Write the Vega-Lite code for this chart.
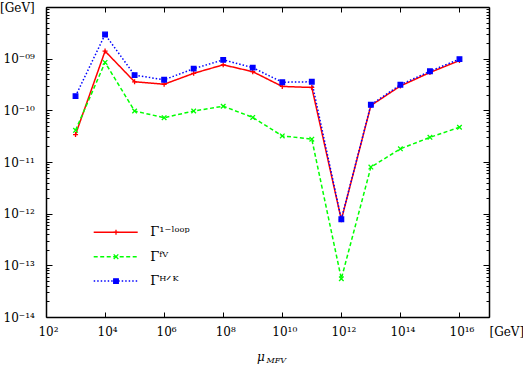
{
  "$schema": "https://vega.github.io/schema/vega-lite/v6.json",
  "width": 443,
  "height": 310,
  "autosize": "none",
  "padding": {"left": 46, "top": 7, "right": 34, "bottom": 48},
  "background": "white",
  "config": {
    "view": {"stroke": null},
    "axis": {
      "grid": false,
      "domainColor": "black",
      "domainWidth": 1.5,
      "tickColor": "black",
      "tickWidth": 1,
      "labelFont": "DejaVu Serif",
      "labelFontSize": 12,
      "labelColor": "black",
      "titleFont": "DejaVu Serif",
      "titleColor": "black",
      "titleFontWeight": "normal",
      "labelOverlap": false,
      "labelBound": false,
      "labelFlush": false
    }
  },
  "data": {
    "values": [
      {"mu": 1e3, "value": 3.4e-11, "series": "1-loop"},
      {"mu": 1e4, "value": 1.40e-9, "series": "1-loop"},
      {"mu": 1e5, "value": 3.57e-10, "series": "1-loop"},
      {"mu": 1e6, "value": 3.2e-10, "series": "1-loop"},
      {"mu": 1e7, "value": 5.2e-10, "series": "1-loop"},
      {"mu": 1e8, "value": 7.6e-10, "series": "1-loop"},
      {"mu": 1e9, "value": 5.6e-10, "series": "1-loop"},
      {"mu": 1e10, "value": 2.9e-10, "series": "1-loop"},
      {"mu": 1e11, "value": 2.77e-10, "series": "1-loop"},
      {"mu": 1e12, "value": 7.6e-13, "series": "1-loop"},
      {"mu": 1e13, "value": 1.24e-10, "series": "1-loop"},
      {"mu": 1e14, "value": 2.96e-10, "series": "1-loop"},
      {"mu": 1e15, "value": 5.4e-10, "series": "1-loop"},
      {"mu": 1e16, "value": 9.2e-10, "series": "1-loop"},
      {"mu": 1e3, "value": 4.1e-11, "series": "FV"},
      {"mu": 1e4, "value": 8.45e-10, "series": "FV"},
      {"mu": 1e5, "value": 9.7e-11, "series": "FV"},
      {"mu": 1e6, "value": 7.2e-11, "series": "FV"},
      {"mu": 1e7, "value": 9.7e-11, "series": "FV"},
      {"mu": 1e8, "value": 1.2e-10, "series": "FV"},
      {"mu": 1e9, "value": 7.3e-11, "series": "FV"},
      {"mu": 1e10, "value": 3.2e-11, "series": "FV"},
      {"mu": 1e11, "value": 2.77e-11, "series": "FV"},
      {"mu": 1e12, "value": 5.5e-14, "series": "FV"},
      {"mu": 1e13, "value": 7.96e-12, "series": "FV"},
      {"mu": 1e14, "value": 1.8e-11, "series": "FV"},
      {"mu": 1e15, "value": 3.0e-11, "series": "FV"},
      {"mu": 1e16, "value": 4.7e-11, "series": "FV"},
      {"mu": 1e3, "value": 1.88e-10, "series": "H/K"},
      {"mu": 1e4, "value": 2.94e-9, "series": "H/K"},
      {"mu": 1e5, "value": 4.8e-10, "series": "H/K"},
      {"mu": 1e6, "value": 3.9e-10, "series": "H/K"},
      {"mu": 1e7, "value": 6.4e-10, "series": "H/K"},
      {"mu": 1e8, "value": 9.5e-10, "series": "H/K"},
      {"mu": 1e9, "value": 6.7e-10, "series": "H/K"},
      {"mu": 1e10, "value": 3.5e-10, "series": "H/K"},
      {"mu": 1e11, "value": 3.57e-10, "series": "H/K"},
      {"mu": 1e12, "value": 7.8e-13, "series": "H/K"},
      {"mu": 1e13, "value": 1.28e-10, "series": "H/K"},
      {"mu": 1e14, "value": 3.13e-10, "series": "H/K"},
      {"mu": 1e15, "value": 5.7e-10, "series": "H/K"},
      {"mu": 1e16, "value": 9.8e-10, "series": "H/K"}
    ]
  },
  "layer": [
    {
      "mark": {"type": "line", "strokeWidth": 1.5},
      "encoding": {
        "x": {
          "field": "mu", "type": "quantitative",
          "scale": {"type": "log", "domain": [1e2, 1e17], "nice": false},
          "axis": {
            "orient": "bottom",
            "values": [1e2, 1e4, 1e6, 1e8, 1e10, 1e12, 1e14, 1e16, 1e17],
            "tickSize": -5,
            "labelPadding": 14,
            "labelExpr": "datum.value > 5e16 ? '[GeV]' : ['10²','10⁴','10⁶','10⁸','10¹⁰','10¹²','10¹⁴','10¹⁶'][round(log(datum.value)/LN10/2)-1]",
            "labelAlign": {"expr": "datum.value > 5e16 ? 'left' : 'center'"},
            "labelOffset": {"expr": "datum.value > 5e16 ? 0 : 2"},
            "title": "μ",
            "titleFontStyle": "italic",
            "titleFontSize": 12,
            "titleX": 214.4,
            "titleY": 43,
            "titleAlign": "center",
            "titleBaseline": "alphabetic"
          }
        },
        "y": {
          "field": "value", "type": "quantitative",
          "scale": {"type": "log", "domain": [1e-14, 1e-8], "nice": false},
          "axis": {
            "orient": "left",
            "values": [1e-14,2e-14,3e-14,4e-14,5e-14,6e-14,7e-14,8e-14,9e-14,1e-13,2e-13,3e-13,4e-13,5e-13,6e-13,7e-13,8e-13,9e-13,1e-12,2e-12,3e-12,4e-12,5e-12,6e-12,7e-12,8e-12,9e-12,1e-11,2e-11,3e-11,4e-11,5e-11,6e-11,7e-11,8e-11,9e-11,1e-10,2e-10,3e-10,4e-10,5e-10,6e-10,7e-10,8e-10,9e-10,1e-9,2e-9,3e-9,4e-9,5e-9,6e-9,7e-9,8e-9,9e-9,1e-8],
            "tickSize": {"expr": "abs(log(datum.value)/LN10 - round(log(datum.value)/LN10)) < 0.01 ? -6 : -3"},
            "labelPadding": 17.7,
            "labelExpr": "abs(log(datum.value)/LN10 - round(log(datum.value)/LN10)) > 0.01 ? '' : ['10⁻¹⁴','10⁻¹³','10⁻¹²','10⁻¹¹','10⁻¹⁰','10⁻⁰⁹','[GeV]'][round(log(datum.value)/LN10)+14]",
            "title": null
          }
        },
        "color": {
          "field": "series", "type": "nominal",
          "scale": {"domain": ["1-loop", "FV", "H/K"], "range": ["#ff0000", "#00ff00", "#0000ff"]},
          "legend": {
            "title": null,
            "orient": "none",
            "legendX": 46.7,
            "legendY": 215.3,
            "padding": 0,
            "symbolType": "stroke",
            "symbolSize": 1936,
            "symbolStrokeWidth": 1.5,
            "clipHeight": 20,
            "rowPadding": 4.4,
            "labelOffset": 11.6,
            "labelFont": "DejaVu Serif",
            "labelFontSize": 13,
            "labelColor": "black",
            "labelExpr": "datum.value == '1-loop' ? 'Γ¹⁻ˡᵒᵒᵖ' : datum.value == 'FV' ? 'Γᶠⱽ' : 'Γᴴᐟᴷ'"
          }
        },
        "strokeDash": {
          "field": "series", "type": "nominal",
          "scale": {"domain": ["1-loop", "FV", "H/K"], "range": [[1, 0], [4, 2.5], [1.5, 2]]}
        }
      }
    },
    {
      "mark": {"type": "point", "filled": false, "size": 21, "strokeWidth": 1.3, "opacity": 1},
      "encoding": {
        "x": {
          "field": "mu", "type": "quantitative",
          "scale": {"type": "log", "domain": [1e2, 1e17], "nice": false},
          "axis": {
            "orient": "top",
            "values": [1e2, 1e4, 1e6, 1e8, 1e10, 1e12, 1e14, 1e16],
            "tickSize": -5,
            "labels": false,
            "title": "MFV",
            "titleFontStyle": "italic",
            "titleFontSize": 8,
            "titleX": 220,
            "titleY": 355,
            "titleAlign": "left",
            "titleBaseline": "alphabetic"
          }
        },
        "y": {
          "field": "value", "type": "quantitative",
          "scale": {"type": "log", "domain": [1e-14, 1e-8], "nice": false},
          "axis": {
            "orient": "right",
            "values": [1e-14,2e-14,3e-14,4e-14,5e-14,6e-14,7e-14,8e-14,9e-14,1e-13,2e-13,3e-13,4e-13,5e-13,6e-13,7e-13,8e-13,9e-13,1e-12,2e-12,3e-12,4e-12,5e-12,6e-12,7e-12,8e-12,9e-12,1e-11,2e-11,3e-11,4e-11,5e-11,6e-11,7e-11,8e-11,9e-11,1e-10,2e-10,3e-10,4e-10,5e-10,6e-10,7e-10,8e-10,9e-10,1e-9,2e-9,3e-9,4e-9,5e-9,6e-9,7e-9,8e-9,9e-9,1e-8],
            "tickSize": {"expr": "abs(log(datum.value)/LN10 - round(log(datum.value)/LN10)) < 0.01 ? -6 : -3"},
            "labels": false,
            "title": null
          }
        },
        "color": {"field": "series", "type": "nominal", "legend": null},
        "fill": {
          "field": "series", "type": "nominal",
          "scale": {"domain": ["1-loop", "FV", "H/K"], "range": ["#ff0000", "#00ff00", "#0000ff"]},
          "legend": null
        },
        "shape": {
          "field": "series", "type": "nominal",
          "scale": {"range": ["M-1.1,0H1.1M0,-1.1V1.1", "M-1,-1L1,1M-1,1L1,-1", "square"]},
          "legend": {
            "title": null,
            "orient": "none",
            "legendX": 65,
            "legendY": 215.3,
            "padding": 0,
            "symbolSize": 21,
            "symbolStrokeWidth": 1.3,
            "symbolOpacity": 1,
            "symbolStrokeColor": {"expr": "scale('color', datum.value)"},
            "symbolFillColor": {"expr": "scale('fill', datum.value)"},
            "clipHeight": 20,
            "rowPadding": 4.4,
            "labelExpr": "''"
          }
        }
      }
    }
  ],
  "resolve": {"axis": {"x": "independent", "y": "independent"}}
}
